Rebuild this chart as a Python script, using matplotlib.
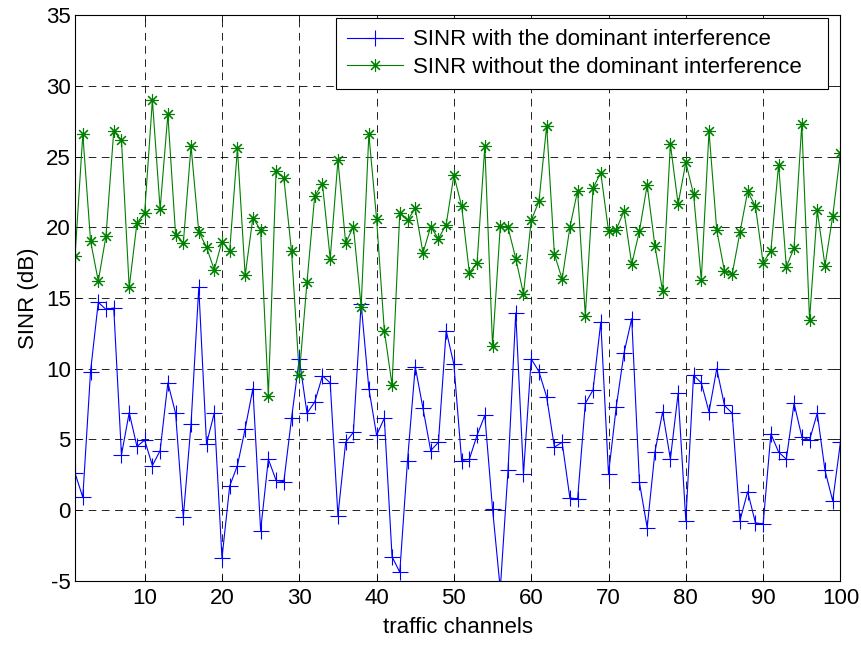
import numpy as np
import matplotlib
matplotlib.use('Agg')
import matplotlib.pyplot as plt

# traffic channel index
channels = np.arange(1, 101)

# SINR with the dominant interference (dB)
sinr_with = [
    2.6, 0.9, 9.8, 14.7, 14.2, 14.3, 3.9, 6.9, 4.5, 4.95,
    3.15, 4.2, 9.0, 6.85, -0.5, 6.1, 15.75, 4.7, 6.85, -3.4,
    1.7, 3.15, 5.75, 8.6, -1.45, 3.6, 2.1, 2.0, 6.5, 10.7,
    6.85, 7.65, 9.5, 9.0, -0.4, 4.8, 5.5, 14.6, 8.6, 5.3,
    6.5, -3.3, -4.4, 3.5, 10.15, 7.2, 4.2, 4.8, 12.7, 10.3,
    3.5, 3.6, 5.3, 6.7, 0.07, -5.6, 2.8, 13.95, 2.55, 10.7,
    9.8, 8.0, 4.45, 4.8, 0.86, 0.78, 7.55, 8.5, 13.3, 2.55,
    7.3, 11.1, 13.55, 1.95, -1.25, 4.1, 6.95, 3.6, 8.25, -0.75,
    9.55, 9.0, 6.95, 10.0, 7.4, 6.85, -0.75, 1.3, -0.9, -1.0,
    5.4, 4.1, 3.6, 7.55, 5.2, 4.95, 6.85, 2.8, 0.65, 4.8,
]

# SINR without the dominant interference (dB)
sinr_without = [
    18.0, 26.6, 19.05, 16.2, 19.4, 26.8, 26.2, 15.75, 20.3, 21.05,
    29.0, 21.3, 28.0, 19.5, 18.9, 25.75, 19.7, 18.6, 17.0, 19.0,
    18.35, 25.6, 16.6, 20.7, 19.8, 8.1, 24.0, 23.5, 18.3, 9.55,
    16.15, 22.25, 23.05, 17.8, 24.75, 18.9, 20.05, 14.4, 26.6, 20.6,
    12.7, 8.85, 21.05, 20.5, 21.35, 18.2, 20.05, 19.2, 20.2, 23.7,
    21.5, 16.8, 17.5, 25.75, 11.6, 20.1, 20.0, 17.8, 15.3, 20.5,
    21.85, 27.2, 18.1, 16.35, 20.0, 22.6, 13.75, 22.8, 23.85, 19.75,
    19.85, 21.15, 17.4, 19.75, 23.0, 18.7, 15.5, 25.9, 21.65, 24.6,
    22.35, 16.3, 26.8, 19.8, 16.9, 16.7, 19.65, 22.55, 21.5, 17.5,
    18.35, 24.45, 17.2, 18.55, 27.3, 13.45, 21.2, 17.3, 20.8, 25.3,
]

x_ticks = [10, 20, 30, 40, 50, 60, 70, 80, 90, 100]
y_ticks = [-5, 0, 5, 10, 15, 20, 25, 30, 35]

plt.rcParams['font.family'] = ['Liberation Sans', 'DejaVu Sans']
plt.rcParams['lines.scale_dashes'] = False
plt.rcParams['axes.unicode_minus'] = False

fs = 16

fig = plt.figure(figsize=(8.62, 6.45), dpi=100)
ax = fig.add_axes([0.0871, 0.0997, 0.8879, 0.8763])

ax.plot(channels, sinr_with, color=(0, 0, 1), linewidth=0.8,
        marker='+', markersize=11, markeredgewidth=0.8,
        label='SINR with the dominant interference')
ax.plot(channels, sinr_without, color=(0, 0.5, 0), linewidth=0.8,
        marker=(8, 2, 0), markersize=9, markeredgewidth=0.8,
        label='SINR without the dominant interference')

ax.set_xlim(1, 100)
ax.set_ylim(-5, 35)
ax.set_xticks(x_ticks)
ax.set_yticks(y_ticks)
ax.tick_params(direction='in', labelsize=fs, length=4, width=0.6,
               top=True, right=True, pad=3)
ax.tick_params(axis='x', pad=5)
ax.grid(True, color='k', linestyle=(0, (5.5, 4)), linewidth=0.6)
for s in ax.spines.values():
    s.set_linewidth(0.8)

ax.set_xlabel('traffic channels', fontsize=fs, labelpad=6)
ax.set_ylabel('SINR (dB)', fontsize=fs, labelpad=5)

leg = ax.legend(loc='upper left', bbox_to_anchor=(0.341, 0.877, 0.643, 0.118),
                mode='expand', fontsize=fs, fancybox=False,
                framealpha=1, edgecolor='k', borderaxespad=0,
                handlelength=2.5, handletextpad=0.45, borderpad=0.5,
                labelspacing=0.28)
leg.get_frame().set_linewidth(0.8)

fig.savefig('out.png', dpi=100)
